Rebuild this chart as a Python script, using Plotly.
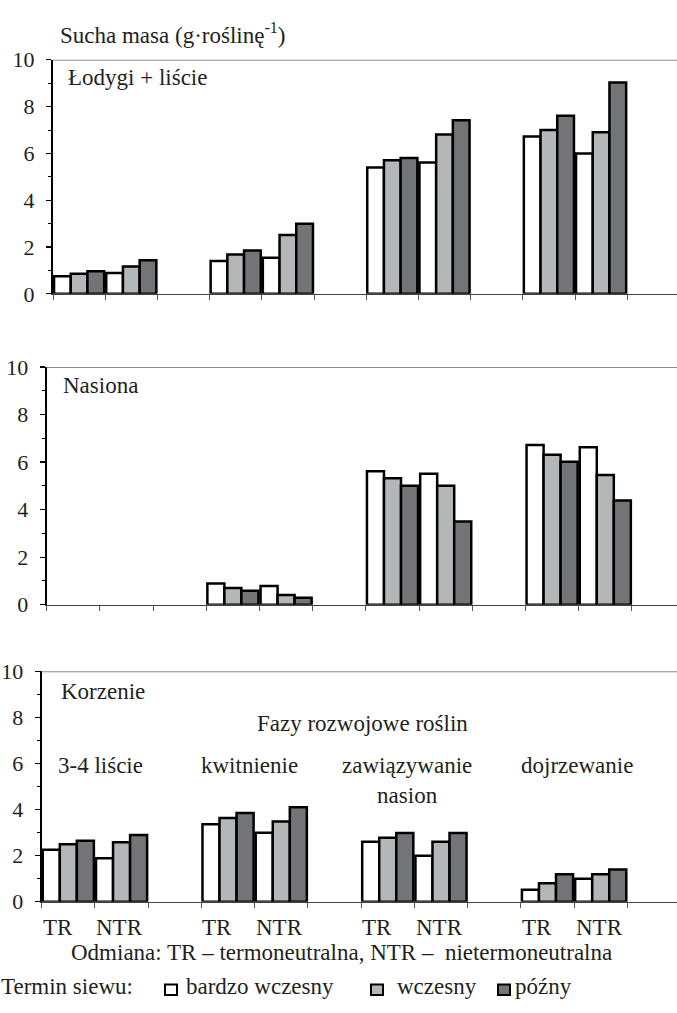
import plotly.graph_objects as go

# ---- data ----
phases = ["3-4 liście", "kwitnienie", "zawiązywanie<br>nasion", "dojrzewanie"]
varieties = ["TR", "NTR"]
series_names = ["bardzo wczesny", "wczesny", "późny"]
series_colors = ["#ffffff", "#b4b7b8", "#737476"]

# order: phase1 TR, phase1 NTR, phase2 TR, phase2 NTR, ...
lodygi_bw = [0.75, 0.89, 1.40, 1.54, 5.40, 5.61, 6.72, 6.00]
lodygi_w = [0.86, 1.17, 1.68, 2.51, 5.71, 6.81, 7.00, 6.90]
lodygi_p = [0.97, 1.44, 1.85, 3.00, 5.80, 7.42, 7.61, 9.03]

nasiona_bw = [None, None, 0.89, 0.79, 5.61, 5.51, 6.72, 6.62]
nasiona_w = [None, None, 0.70, 0.41, 5.32, 5.01, 6.31, 5.46]
nasiona_p = [None, None, 0.59, 0.29, 5.01, 3.50, 6.01, 4.38]

korzenie_bw = [2.26, 1.89, 3.36, 3.00, 2.61, 2.00, 0.52, 1.00]
korzenie_w = [2.50, 2.58, 3.64, 3.48, 2.78, 2.61, 0.80, 1.20]
korzenie_p = [2.65, 2.90, 3.85, 4.10, 2.99, 2.99, 1.20, 1.40]

panel_titles = ["Łodygi + liście", "Nasiona", "Korzenie"]
panels = [
    [lodygi_bw, lodygi_w, lodygi_p],
    [nasiona_bw, nasiona_w, nasiona_p],
    [korzenie_bw, korzenie_w, korzenie_p],
]

W, H = 677, 1013
FONT = "'Liberation Serif', 'Times New Roman', Times, serif"
TXT = "#231f20"
FS = 23

# layout geometry (pixels)
geo = [
    dict(left=53.0, slot=52.2, top=49.0, bottom=289.0),
    dict(left=46.7, slot=53.2, top=364.0, bottom=607.7),
    dict(left=41.7, slot=53.24, top=676.0, bottom=912.3),
]


def py(v):
    return 1 - v / H


def px(v):
    return v / W


fig = go.Figure()
BW = 0.32

for pi, (vals, g) in enumerate(zip(panels, geo)):
    xa = "x" if pi == 0 else f"x{pi + 1}"
    ya = "y" if pi == 0 else f"y{pi + 1}"
    for k, (vs, name, col) in enumerate(zip(vals, series_names, series_colors)):
        xs = []
        for i in range(len(vs)):
            p, v = divmod(i, 2)
            slot = 3 * p + v
            xs.append(slot + 0.5 + (k - 1) * BW)
        fig.add_trace(go.Bar(
            x=xs, y=vs, width=BW, name=name, showlegend=False,
            marker=dict(color=col, line=dict(color="#000000", width=2.5)),
            xaxis=xa, yaxis=ya, hoverinfo="y",
        ))
    R = (W - g["left"]) / g["slot"]
    xkey = "xaxis" if pi == 0 else f"xaxis{pi + 1}"
    ykey = "yaxis" if pi == 0 else f"yaxis{pi + 1}"
    fig.update_layout(**{
        xkey: dict(
            domain=[px(g["left"]), 1], range=[0, R], anchor=ya,
            tickvals=list(range(12)), ticks="outside", ticklen=5,
            tickcolor="#555", tickwidth=1,
            showticklabels=False, showgrid=False, zeroline=False,
            showline=True, linecolor="#444", linewidth=1.5, fixedrange=True,
        ),
        ykey: dict(
            domain=[py(g["bottom"]), py(g["top"])], range=[0, 10], anchor=xa,
            tickvals=[0, 2, 4, 6, 8, 10], ticks="outside", ticklen=5,
            tickcolor="#000", tickwidth=1.2,
            minor=dict(tickvals=[1, 3, 5, 7, 9], ticks="outside", ticklen=3,
                       tickcolor="#000", tickwidth=1),
            ticklabelstandoff=7,
            tickfont=dict(family=FONT, size=22, color=TXT),
            showgrid=False, zeroline=False,
            showline=True, linecolor="#000", linewidth=2, fixedrange=True,
        ),
    })
    # top border line at 10
    fig.add_shape(type="line", xref=f"{xa} domain", x0=0, x1=1,
                  yref=ya, y0=10, y1=10, line=dict(color="#8c8c8c", width=2))

annotations = []


def txt(text, x, y, xanchor="left", yanchor="middle", size=FS, align="left"):
    annotations.append(dict(
        text=text, x=px(x), y=py(y), xref="paper", yref="paper",
        xanchor=xanchor, yanchor=yanchor, showarrow=False, align=align,
        borderpad=0, font=dict(family=FONT, size=size, color=TXT),
    ))


txt("Sucha masa (g·roślinę<sup>-1</sup>)", 59, 38, yanchor="bottom")
txt(panel_titles[0], 67, 67)
txt(panel_titles[1], 62, 383)
txt(panel_titles[2], 60, 697)
txt("Fazy rozwojowe roślin", 362, 729, xanchor="center")

phase_cx = [100, 249, 407, 577]
for name, cx in zip(phases, phase_cx):
    txt(name, cx, 759, xanchor="center", yanchor="top", align="center")

# variety labels under bottom panel
for p in range(4):
    for v, lab in enumerate(varieties):
        slot = 3 * p + v
        off = 0.3 if v == 0 else 0.47
        annotations.append(dict(
            text=lab, x=slot + off, y=py(939), xref="x3", yref="paper",
            xanchor="center", yanchor="middle", showarrow=False, borderpad=0,
            font=dict(family=FONT, size=FS, color=TXT),
        ))

txt("Odmiana: TR – termoneutralna, NTR –  nietermoneutralna", 341, 964, xanchor="center")

# legend
txt("Termin siewu:", 0, 999)
leg_x = [165, 371, 498]
leg_tx = [185, 396, 514]
for col, name, sx, tx in zip(series_colors, series_names, leg_x, leg_tx):
    fig.add_shape(type="rect", xref="paper", yref="paper",
                  x0=px(sx), x1=px(sx + 12), y0=py(1008), y1=py(997),
                  fillcolor=col, line=dict(color="#000", width=2))
    txt(name, tx, 999)

fig.update_layout(
    width=W, height=H, margin=dict(l=0, r=0, t=0, b=0),
    paper_bgcolor="#ffffff", plot_bgcolor="#ffffff",
    barmode="overlay", bargap=0, annotations=annotations,
    showlegend=False,
)

fig.write_html(
    "out.html",
    config={"displayModeBar": False, "staticPlot": True},
    post_script="document.body.style.margin='0';document.body.style.overflow='hidden';",
)
